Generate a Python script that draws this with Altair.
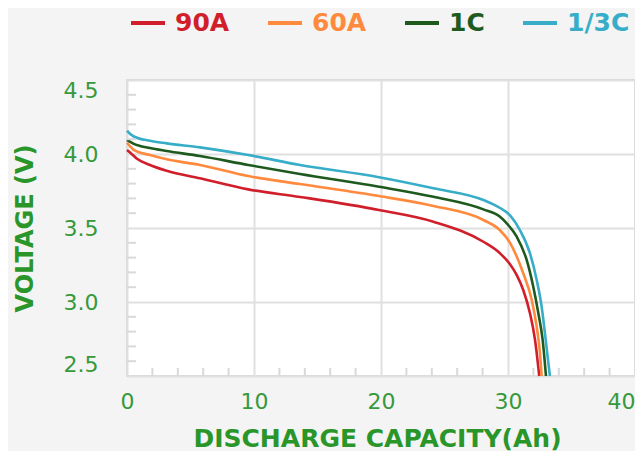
import altair as alt
import pandas as pd

series = ["90A", "60A", "1C", "1/3C"]
colors = ["#d01f2b", "#ff8a3d", "#1e5a1e", "#37adc8"]

cap_90a = [0, 0.37, 0.76, 1.81, 3.13, 5.75, 9.55, 13.62, 19.84, 24.13, 28.06, 29.37, 30.16, 30.7, 31.2, 31.73, 32.13, 32.46]
volt_90a = [4.027, 4.0, 3.97, 3.926, 3.887, 3.836, 3.761, 3.71, 3.622, 3.543, 3.407, 3.329, 3.255, 3.18, 3.081, 2.924, 2.743, 2.5]

cap_60a = [0, 0.26, 0.5, 1.81, 3.13, 5.75, 9.55, 13.62, 19.84, 24.13, 28.06, 29.37, 30.16, 31.2, 31.87, 32.26, 32.52, 32.65]
volt_60a = [4.076, 4.05, 4.03, 3.993, 3.964, 3.926, 3.851, 3.797, 3.716, 3.649, 3.554, 3.485, 3.40, 3.194, 3.014, 2.833, 2.653, 2.5]

cap_1c = [0, 0.5, 1.81, 3.13, 5.75, 9.55, 13.62, 19.84, 24.13, 28.06, 29.37, 29.9, 30.69, 31.47, 31.99, 32.39, 32.73, 32.99]
volt_1c = [4.095, 4.07, 4.04, 4.02, 3.986, 3.926, 3.865, 3.779, 3.711, 3.626, 3.576, 3.532, 3.441, 3.284, 3.103, 2.924, 2.743, 2.5]

cap_13c = [0, 0.5, 1.81, 3.13, 5.75, 9.55, 13.62, 19.84, 24.13, 28.06, 29.37, 30.16, 30.94, 31.73, 32.26, 32.65, 32.91, 33.15, 33.3]
volt_13c = [4.157, 4.12, 4.089, 4.072, 4.045, 3.993, 3.926, 3.843, 3.768, 3.689, 3.635, 3.586, 3.486, 3.329, 3.149, 2.968, 2.788, 2.608, 2.5]

x_ticks = [0, 10, 20, 30, 40]
y_ticks = [2.5, 3.0, 3.5, 4.0, 4.5]
x_minor = [2, 4, 6, 8, 12, 14, 16, 18, 22, 24, 26, 28, 32, 34, 36, 38]
y_minor = [2.6, 2.7, 2.8, 2.9, 3.1, 3.2, 3.3, 3.4, 3.6, 3.7, 3.8, 3.9, 4.1, 4.2, 4.3, 4.4]

rows = []
for name, xs, ys in [("90A", cap_90a, volt_90a), ("60A", cap_60a, volt_60a),
                     ("1C", cap_1c, volt_1c), ("1/3C", cap_13c, volt_13c)]:
    for i, (xv, yv) in enumerate(zip(xs, ys)):
        rows.append({"series": name, "capacity": xv, "voltage": yv, "order": i})
df = pd.DataFrame(rows)

W, H = 508, 296
label_green = "#36993a"
title_green = "#2a962a"
FONT = "DejaVu Sans"

xscale = alt.Scale(domain=[0, 40], nice=False, zero=False)
yscale = alt.Scale(domain=[2.5, 4.5], nice=False, zero=False)

x_axis = alt.Axis(values=x_ticks, title="DISCHARGE CAPACITY(Ah)", ticks=False, tickSize=0,
                  domain=False, grid=True, gridColor="#e0e0e0", gridWidth=2,
                  labelFont=FONT, labelFontSize=22, labelColor=label_green,
                  labelPadding=15, labelFlush=False,
                  labelAlign={"condition": {"test": "datum.value >= 40", "value": "right"},
                              "value": "center"},
                  titleFont=FONT, titleFontSize=25, titleFontWeight="bold",
                  titleColor=title_green, titleX=W / 2 - 4, titleY=70,
                  titleBaseline="alphabetic", titleAlign="center")
y_axis = alt.Axis(values=y_ticks, title="VOLTAGE (V)", ticks=False, tickSize=0,
                  domain=False, grid=True, gridColor="#e0e0e0", gridWidth=2,
                  labelFont=FONT, labelFontSize=22, labelColor=label_green,
                  labelPadding=29, labelFlush=True,
                  titleFont=FONT, titleFontSize=24, titleFontWeight="bold",
                  titleColor=title_green, titleX=-102, titleY=H / 2,
                  titleAngle=-90, titleBaseline="middle", titleAlign="center")

lines = alt.Chart(df).mark_line(strokeWidth=2.6, interpolate="monotone").encode(
    x=alt.X("capacity:Q", scale=xscale, axis=x_axis),
    y=alt.Y("voltage:Q", scale=yscale, axis=y_axis),
    color=alt.Color("series:N", sort=series,
                    scale=alt.Scale(domain=series, range=colors),
                    legend=alt.Legend(title=None, orient="none", legendX=2, legendY=-76,
                                      direction="horizontal", symbolType="stroke",
                                      symbolSize=1156, symbolStrokeWidth=4,
                                      labelFont=FONT, labelFontSize=25, labelFontWeight="bold",
                                      labelColor={"expr": "scale('color', datum.value)"},
                                      labelOffset=8, columnPadding=30, padding=0)),
    order="order:Q",
)

ymin = alt.Chart(pd.DataFrame({"voltage": y_minor})).mark_rule(color="#d9d9d9", strokeWidth=2).encode(
    y=alt.Y("voltage:Q", scale=yscale, axis=None),
    x=alt.value(0), x2=alt.value(9),
)
xmin = alt.Chart(pd.DataFrame({"capacity": x_minor})).mark_rule(color="#d9d9d9", strokeWidth=2).encode(
    x=alt.X("capacity:Q", scale=xscale, axis=None),
    y=alt.value(H), y2=alt.value(H - 8),
)

chart = alt.layer(lines, ymin, xmin).resolve_axis(
    x="independent", y="independent"
).properties(
    width=W, height=H,
    autosize=alt.AutoSizeParams(type="none"),
    padding={"left": 119, "top": 72, "right": 0, "bottom": 75},
    background="#f4f4f4",
).configure_view(fill="white", stroke="#d9d9d9", strokeWidth=2)

chart.save("out.html", embed_options={"renderer": "svg", "actions": False})
